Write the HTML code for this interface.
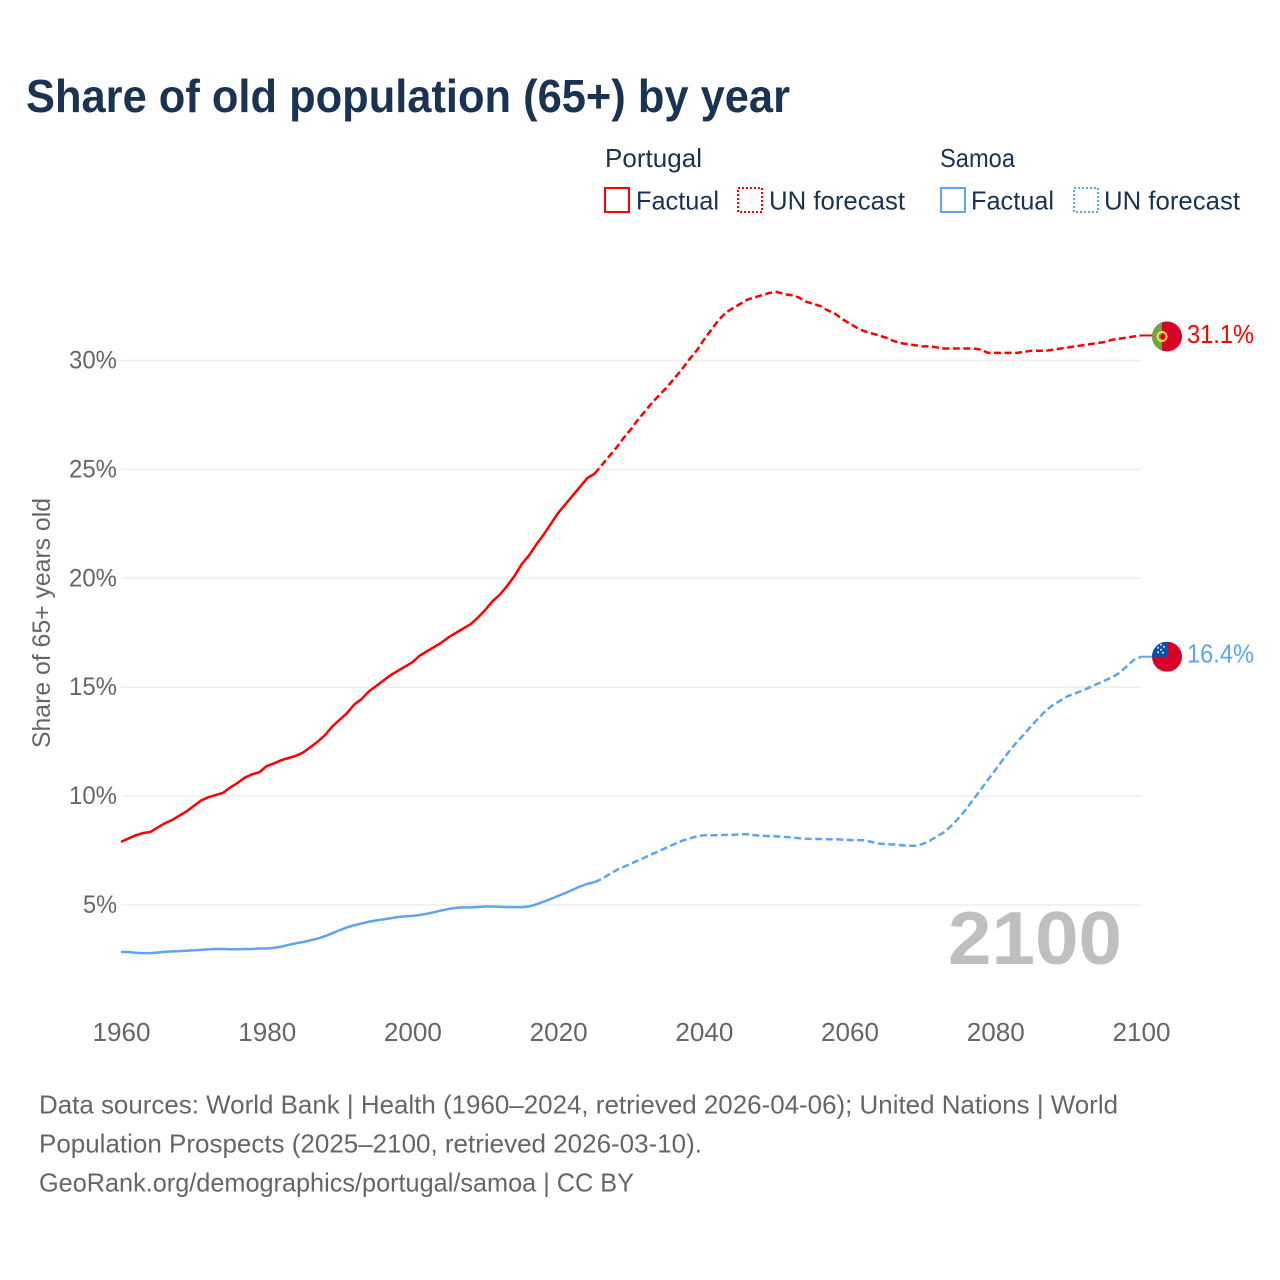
<!DOCTYPE html>
<html lang="en">
<head>
<meta charset="utf-8">
<title>Share of old population (65+) by year</title>
<style>
html,body{margin:0;padding:0;background:#fff;}
svg{display:block;font-family:"Liberation Sans",sans-serif;}
</style>
</head>
<body>
<svg id="chart" xmlns="http://www.w3.org/2000/svg" width="1280" height="1280" viewBox="0 0 1280 1280">
  <rect width="1280" height="1280" fill="#ffffff"/>
  <text x="26" y="112" font-size="46" font-weight="700" fill="#1a3353" textLength="764" lengthAdjust="spacingAndGlyphs">Share of old population (65+) by year</text>

  <g font-size="26" fill="#1a3353">
    <text x="605" y="167" textLength="97" lengthAdjust="spacingAndGlyphs">Portugal</text>
    <text x="940" y="167" textLength="75" lengthAdjust="spacingAndGlyphs">Samoa</text>
    <rect x="605" y="188" width="24" height="24" fill="none" stroke="#ff0000" stroke-width="2"/>
    <text x="636" y="209.5" textLength="83" lengthAdjust="spacingAndGlyphs">Factual</text>
    <rect x="738" y="188" width="24" height="24" fill="none" stroke="#ff0000" stroke-width="2" stroke-dasharray="2 2"/>
    <text x="769" y="209.5" textLength="136" lengthAdjust="spacingAndGlyphs">UN forecast</text>
    <rect x="941" y="188" width="24" height="24" fill="none" stroke="#5da5ec" stroke-width="2"/>
    <text x="971" y="209.5" textLength="83" lengthAdjust="spacingAndGlyphs">Factual</text>
    <rect x="1074" y="188" width="24" height="24" fill="none" stroke="#5da5ec" stroke-width="2" stroke-dasharray="2 2"/>
    <text x="1104" y="209.5" textLength="136" lengthAdjust="spacingAndGlyphs">UN forecast</text>
  </g>

  <g id="grid"></g>
  <g id="yticks" font-size="25" fill="#666666" text-anchor="end"></g>
  <g id="xticks" font-size="26" fill="#666666" text-anchor="middle"></g>
  <text transform="translate(50,623) rotate(-90)" font-size="25" fill="#666666" text-anchor="middle" textLength="250" lengthAdjust="spacingAndGlyphs">Share of 65+ years old</text>
  <text x="948" y="964" font-size="75" font-weight="700" fill="#bfbfbf" textLength="174" lengthAdjust="spacingAndGlyphs">2100</text>

  <g id="series"></g>
  <g id="ends"></g>

  <g font-size="26" fill="#666666">
    <text x="39" y="1113.5" textLength="1079" lengthAdjust="spacingAndGlyphs">Data sources: World Bank | Health (1960–2024, retrieved 2026-04-06); United Nations | World</text>
    <text x="39" y="1152.5" textLength="663" lengthAdjust="spacingAndGlyphs">Population Prospects (2025–2100, retrieved 2026-03-10).</text>
    <text x="39" y="1191.5" textLength="595" lengthAdjust="spacingAndGlyphs">GeoRank.org/demographics/portugal/samoa | CC BY</text>
  </g>
</svg>
<script>
const xTickYears = [1960, 1980, 2000, 2020, 2040, 2060, 2080, 2100];
const yTickValues = [5, 10, 15, 20, 25, 30];
const factualStartYear = 1960;
const forecastStartYear = 2025;
const portugalFactual = [7.9,8.05,8.2,8.3,8.35,8.55,8.75,8.9,9.1,9.3,9.55,9.8,9.95,10.05,10.15,10.4,10.6,10.85,11.0,11.1,11.38,11.5,11.65,11.75,11.85,12.0,12.25,12.5,12.8,13.2,13.5,13.8,14.2,14.45,14.8,15.05,15.3,15.55,15.75,15.95,16.15,16.45,16.65,16.85,17.05,17.3,17.5,17.7,17.9,18.2,18.55,18.95,19.25,19.65,20.1,20.65,21.05,21.55,22.0,22.5,23.0,23.4,23.8,24.2,24.6,24.8];
const portugalForecast = [24.8,25.2,25.6,26.0,26.45,26.85,27.3,27.7,28.1,28.45,28.8,29.2,29.6,30.05,30.45,30.95,31.4,31.85,32.2,32.4,32.6,32.8,32.9,33.0,33.1,33.15,33.05,33.0,32.9,32.7,32.6,32.5,32.3,32.15,31.9,31.7,31.5,31.35,31.25,31.15,31.05,30.9,30.8,30.75,30.7,30.65,30.65,30.6,30.55,30.55,30.55,30.55,30.55,30.5,30.35,30.35,30.35,30.35,30.35,30.4,30.45,30.45,30.45,30.5,30.55,30.6,30.65,30.7,30.75,30.8,30.85,30.95,31.0,31.05,31.1,31.15];
const samoaFactual = [2.84,2.84,2.81,2.79,2.79,2.82,2.85,2.87,2.88,2.9,2.92,2.94,2.96,2.98,2.98,2.97,2.97,2.98,2.98,3.0,3.0,3.03,3.09,3.17,3.24,3.3,3.38,3.46,3.57,3.7,3.84,3.97,4.07,4.15,4.23,4.29,4.34,4.39,4.45,4.48,4.5,4.54,4.6,4.67,4.75,4.82,4.87,4.89,4.89,4.91,4.93,4.93,4.92,4.9,4.9,4.9,4.93,5.03,5.15,5.28,5.42,5.55,5.7,5.85,5.97,6.05];
const samoaForecast = [6.05,6.2,6.4,6.6,6.75,6.9,7.05,7.2,7.35,7.5,7.65,7.8,7.95,8.05,8.15,8.2,8.2,8.2,8.22,8.22,8.25,8.25,8.2,8.18,8.16,8.15,8.13,8.1,8.07,8.04,8.03,8.03,8.02,8.02,8.0,7.98,7.98,7.97,7.9,7.82,7.8,7.78,7.75,7.72,7.72,7.8,7.95,8.15,8.35,8.65,9.0,9.4,9.85,10.3,10.75,11.2,11.65,12.1,12.5,12.85,13.25,13.6,13.95,14.2,14.4,14.6,14.72,14.85,15.0,15.15,15.3,15.45,15.65,15.95,16.25,16.4];
const portugalEndLabel = "31.1%";
const samoaEndLabel = "16.4%";

const NS = "http://www.w3.org/2000/svg";
const RED = "#ff0000", BLUE = "#5da5ec";
function xScale(year){ return 121 + (year - 1960) * (1020 / 140); }
function yScale(v){ return 905 - (v - 5) * 21.78; }
function make(tag, attrs, parent){
  const el = document.createElementNS(NS, tag);
  for (const k in attrs) el.setAttribute(k, attrs[k]);
  parent.appendChild(el);
  return el;
}

const grid = document.getElementById("grid");
const yticks = document.getElementById("yticks");
yTickValues.forEach(function(v){
  const line = make("line", {x1:121, x2:1141, y1:yScale(v), y2:yScale(v), stroke:"#eeeeee", "stroke-width":1.5}, grid);
  
  
  const label = String(v) + "%";
  const t = make("text", {x:117, y:yScale(v)+8, textLength:label.length === 2 ? 34 : 48, lengthAdjust:"spacingAndGlyphs"}, yticks);
  
  
  t.textContent = label;
});

const xticks = document.getElementById("xticks");
xTickYears.forEach(function(y){
  const t = make("text", {x:xScale(y)+0.5, y:1041, textLength:58, lengthAdjust:"spacingAndGlyphs"}, xticks);
  
  
  t.textContent = String(y);
});

function pathFrom(values, startYear){
  return values.map(function(v, i){
    return (i ? "L" : "M") + xScale(startYear + i).toFixed(2) + " " + yScale(v).toFixed(2);
  }).join(" ");
}
const series = document.getElementById("series");
function drawSeries(name, values, startYear, color, dashed){
  const attrs = {d:pathFrom(values, startYear), fill:"none", stroke:color, "stroke-width":2.5, "stroke-linejoin":"round"};
  if (dashed) attrs["stroke-dasharray"] = "7 3.5";
  const p = make("path", attrs, series);
  
  
}
drawSeries("portugal-factual-line", portugalFactual, factualStartYear, RED, false);
drawSeries("portugal-forecast-line", portugalForecast, forecastStartYear, RED, true);
drawSeries("samoa-factual-line", samoaFactual, factualStartYear, BLUE, false);
drawSeries("samoa-forecast-line", samoaForecast, forecastStartYear, BLUE, true);

const ends = document.getElementById("ends");
const defs = make("defs", {}, ends);
function clip(id, cy){
  const c = make("clipPath", {id:id}, defs);
  make("circle", {cx:1167, cy:cy, r:15}, c);
}
const pEndY = yScale(portugalForecast[portugalForecast.length - 1]);
const sY = yScale(samoaForecast[samoaForecast.length - 1]);
const pY = pEndY + 1;

const pLead = make("line", {x1:xScale(2100), x2:1152, y1:pEndY, y2:pEndY, stroke:RED, "stroke-width":2}, ends);


const sLead = make("line", {x1:xScale(2100), x2:1152, y1:sY, y2:sY, stroke:BLUE, "stroke-width":2}, ends);



clip("clip-pt", pY);
clip("clip-ws", sY);

const ptFlag = make("g", {"clip-path":"url(#clip-pt)"}, ends);


make("rect", {x:1152, y:pY-15, width:30, height:30, fill:"#d80027"}, ptFlag);
make("rect", {x:1152, y:pY-15, width:10, height:30, fill:"#6da544"}, ptFlag);
make("circle", {cx:1162, cy:pY, r:4.5, fill:"none", stroke:"#ffda44", "stroke-width":2}, ptFlag);
make("rect", {x:1160.5, y:pY-1.5, width:3, height:3.5, fill:"#d80027"}, ptFlag);

const wsFlag = make("g", {"clip-path":"url(#clip-ws)"}, ends);


make("rect", {x:1152, y:sY-15, width:30, height:30, fill:"#d80027"}, wsFlag);
make("rect", {x:1152, y:sY-15, width:15, height:15, fill:"#0052b4"}, wsFlag);
[[-9,-9],[-6,-12],[-3,-10],[-6,-7],[-9,-4.5],[-4,-4]].forEach(function(s){
  make("circle", {cx:1167 + s[0], cy:sY + s[1], r:1, fill:"#f0f0f0"}, wsFlag);
});

const pLabel = make("text", {x:1187, y:pY+6.5, "font-size":26, fill:RED, textLength:67, lengthAdjust:"spacingAndGlyphs"}, ends);


pLabel.textContent = portugalEndLabel;
const sLabel = make("text", {x:1187, y:sY+6, "font-size":26, fill:BLUE, textLength:67, lengthAdjust:"spacingAndGlyphs"}, ends);


sLabel.textContent = samoaEndLabel;
</script>
</body>
</html>
